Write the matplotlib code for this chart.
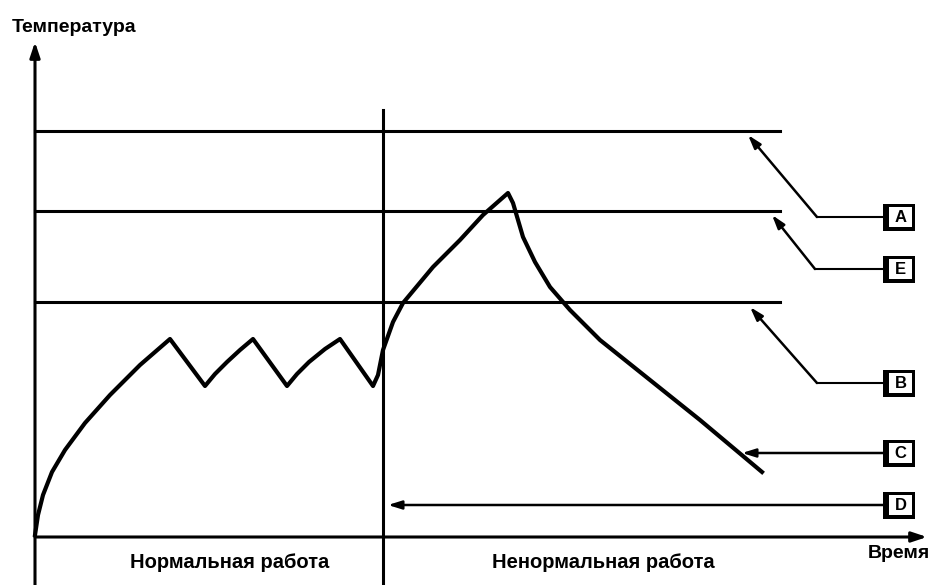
import numpy as np
from matplotlib import pyplot as plt
from matplotlib.patches import Rectangle

###################
# Chart data      #
###################
# Temperature curve (time, temperature), arbitrary units
curve_time = [0, 3, 8, 17, 30, 50, 75, 105, 135,
              170, 180, 192, 205, 218,
              252, 262, 274, 290, 305,
              338, 343, 348, 358, 368, 383, 398, 425, 448, 473,
              478, 488, 500, 515, 535, 565, 605, 665, 727]
curve_temp = [2, 22, 42, 65, 87, 114, 142, 172, 198,
              151, 163, 175, 187, 198,
              151, 163, 175, 188, 198,
              151, 162, 187, 215, 234, 252, 270, 297, 322, 344,
              334, 300, 275, 250, 227, 197, 165, 117, 65]

# Threshold levels
level_names = ['A', 'E', 'B']
level_values = [406, 326, 235]
level_end = 745

# Boundary between normal and abnormal operation
boundary_time = 348

# Axis / region labels
y_label = 'Температура'
x_label = 'Время'
region_labels = ['Нормальная работа', 'Ненормальная работа']
region_centers = [195, 568]

# Callouts: label, arrow tip (time, temp), elbow time (None = straight)
callout_names = ['A', 'E', 'B', 'C', 'D']
callout_tip = [(713, 402), (737, 322), (715, 230), (707, 84), (353, 32)]
callout_elbow = [782, 780, 782, None, None]
callout_y = [320, 268, 154, 84, 32]
box_left = 848

# Figure
fig = plt.figure(figsize=(9.3, 5.85), dpi=100)
ax = fig.add_axes([0, 0, 1, 1])
ax.set_xlim(-35, 895)
ax.set_ylim(-48, 537)
ax.axis('off')

font = ['Liberation Sans', 'DejaVu Sans']
lw_main = 2.2
head = '-|>,head_length=0.8,head_width=0.25'

# Axes with arrows
ax.annotate('', xy=(0, 495), xytext=(0, -48),
            arrowprops=dict(arrowstyle='-|>,head_length=0.9,head_width=0.3',
                            color='black', lw=lw_main, shrinkA=0, shrinkB=0))
ax.annotate('', xy=(892, 0), xytext=(0, 0),
            arrowprops=dict(arrowstyle='-|>,head_length=0.9,head_width=0.3',
                            color='black', lw=lw_main, shrinkA=0, shrinkB=0))

# Boundary line
ax.plot([boundary_time, boundary_time], [-48, 427], color='black', lw=lw_main)

# Threshold levels
for v in level_values:
    ax.plot([0, level_end], [v, v], color='black', lw=lw_main)

# Temperature curve
ax.plot(curve_time, curve_temp, color='black', lw=3, solid_joinstyle='round')

# Callouts
for name, tip, elbow, yb in zip(callout_names, callout_tip, callout_elbow, callout_y):
    if elbow is None:
        start = (box_left, yb)
    else:
        ax.plot([elbow, box_left], [yb, yb], color='black', lw=1.5)
        start = (elbow, yb)
    ax.annotate('', xy=tip, xytext=start,
                arrowprops=dict(arrowstyle=head, color='black', lw=1.8,
                                shrinkA=0, shrinkB=0))
    ax.add_patch(Rectangle((box_left, yb - 13.5), 32, 27, facecolor='black',
                           edgecolor='none', zorder=3))
    ax.add_patch(Rectangle((box_left + 6, yb - 10), 23, 20, facecolor='white',
                           edgecolor='none', zorder=4))
    ax.text(box_left + 17.5, yb, name, ha='center', va='center', fontsize=12,
            fontweight='bold', family=font, zorder=5)

# Labels
ax.text(-23, 509, y_label, ha='left', va='center', fontsize=14,
        fontweight='bold', family=font)
ax.text(895, -16, x_label, ha='right', va='center', fontsize=14,
        fontweight='bold', family=font)
for lab, c in zip(region_labels, region_centers):
    ax.text(c, -25, lab, ha='center', va='center', fontsize=14.5,
            fontweight='bold', family=font)

fig.savefig('out.png', dpi=100)
